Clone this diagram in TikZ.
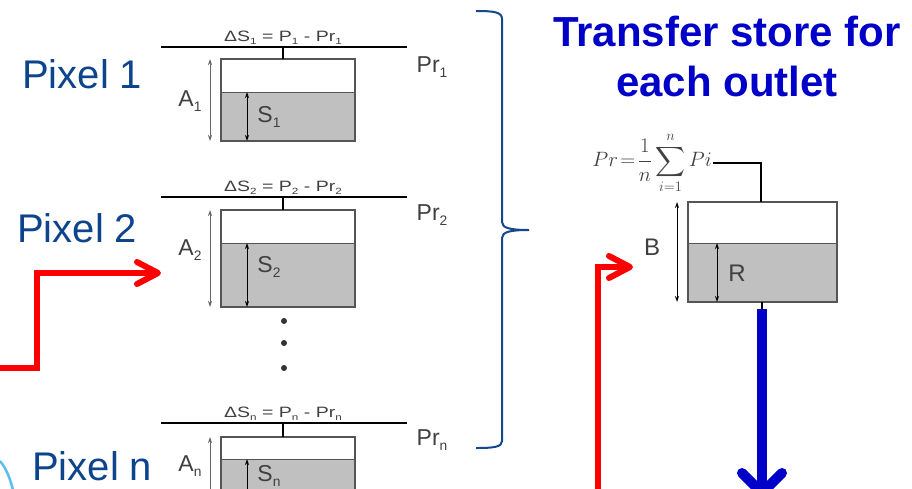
\documentclass[tikz,border=0pt]{standalone}
\usepackage{amsmath}
\usepackage{exscale}
\usepackage{fontspec}
\setmainfont{Liberation Sans}
\usetikzlibrary{arrows.meta}
\definecolor{pixblue}{RGB}{14,68,140}
\definecolor{titleblue}{RGB}{0,0,200}
\definecolor{bracecol}{RGB}{20,72,140}
\definecolor{txtgray}{RGB}{64,64,64}
\definecolor{watercol}{RGB}{192,192,192}
\definecolor{boxedge}{RGB}{85,85,85}
\definecolor{arcblue}{RGB}{90,190,240}
\definecolor{flowblue}{RGB}{0,0,200}
\definecolor{flowred}{RGB}{255,0,0}
\newcommand\sbs[1]{\raisebox{-0.45ex}{\scalebox{0.6}{#1}}}
\tikzset{
  mainline/.style={black, line width=2pt},
  stubline/.style={black, line width=2pt},
  tankbox/.style={draw=boxedge, line width=1.2pt, inner sep=0pt, outer sep=0pt, minimum width=134pt},
  waterline/.style={boxedge, line width=1pt},
  dimA/.style={gray!80!black, line width=1pt, {Stealth[length=6pt,width=4pt]}-{Stealth[length=6pt,width=4pt]}},
  dimS/.style={black, line width=1pt, {Stealth[length=6pt,width=4pt]}-{Stealth[length=6pt,width=4pt]}},
  tlab/.style={text=txtgray, inner sep=0pt, font=\fontsize{23}{27}\selectfont},
  eqlab/.style={text=txtgray, inner sep=1pt, font=\fontsize{15}{18}\selectfont},
  pixlab/.style={text=pixblue, inner sep=0pt, anchor=base west, font=\fontsize{40}{48}\selectfont},
  redflow/.style={flowred, line width=6pt, line join=miter},
  redhead/.style={flowred, line width=6pt, line cap=round, line join=round},
}
\newcommand\tankdraw[9]{%
  \coordinate (#1-l) at (161,#3);
  \coordinate (#1-r) at (407,#3);
  \coordinate (#1-s) at (283,#3);
  \draw[mainline] (#1-l) -- (#1-r);
  \node[eqlab, anchor=south] (#1-eq) at (283,#3-1) {\scalebox{1.3}[1]{ΔS\sbs{#2} = P\sbs{#2} - Pr\sbs{#2}}};
  \fill[watercol] (221,#5) rectangle (355,#6);
  \draw[waterline] (221,#5) -- (355,#5);
  \node[tankbox, minimum height={(#6-#4)*1pt}, anchor=north west] (#1-box) at (221,#4) {};
  \draw[stubline] (#1-s) -- (#1-s |- #1-box.north);
  \draw[dimA] (210,#4) -- (210,#6);
  \draw[dimS] (247,#5) -- (247,#6);
  \node[tlab] (#1-A) at (190,#8) {A\sbs{#2}};
  \node[tlab] (#1-S) at (269,#9) {S\sbs{#2}};
  \node[tlab] (#1-Pr) at (432,#7) {Pr\sbs{#2}};
}
\begin{document}
\begin{tikzpicture}[x=1pt,y=-1pt]
\useasboundingbox (0,0) rectangle (912,488);
\clip (0,0) rectangle (912,488);
\fill[white] (0,0) rectangle (912,488);

% pixel labels
\node[pixlab] (p1) at (22,88) {Pixel 1};
\node[pixlab] (p2) at (17,242) {Pixel 2};
\node[pixlab] (pn) at (32,480) {Pixel n};

% pixel tanks
\tankdraw{t1}{1}{47}{59}{92}{141}{67}{101}{117}
\tankdraw{t2}{2}{197}{210}{243}{307}{215}{250}{267}
\tankdraw{tn}{n}{423}{437}{459}{500}{440}{466}{476}

% dots
\foreach \yy [count=\k] in {321,343,368} \fill[black!80] (284,\yy) circle (3pt) coordinate (dot\k);

% brace
\coordinate (br-top) at (476,11);
\coordinate (br-tip) at (529,230);
\coordinate (br-bot) at (476,448);
\draw[bracecol, line width=2pt] (br-top) .. controls (494,11) and (502,12) .. (502,19) -- (502,222)
  .. controls (502,228) and (510,230) .. (br-tip)
  .. controls (510,230) and (502,232) .. (502,238) -- (502,441)
  .. controls (502,447) and (494,448) .. (br-bot);

% title
\node[text=titleblue, anchor=north, inner sep=0pt, align=center,
  font=\fontsize{42}{50}\selectfont\bfseries] (title) at (727,16) {Transfer store for\\each outlet};

% transfer store
\fill[watercol] (688,243) rectangle (837,302);
\draw[waterline] (688,243) -- (837,243);
\node[tankbox, minimum width=149pt, minimum height=100pt, anchor=north west] (T-box) at (688,202) {};
\draw[dimS] (677,202) -- (677,302);
\draw[dimS] (717,243) -- (717,302);
\node[tlab, font=\fontsize{24}{28}\selectfont] (T-B) at (652,247) {B};
\node[tlab, font=\fontsize{24}{28}\selectfont] (T-R) at (737,273) {R};
\node[anchor=east, inner sep=1pt, text=txtgray, font=\fontsize{20}{24}\selectfont] (F) at (713,163)
  {$\displaystyle Pr\!=\!\frac{1}{n}\sum_{i=1}^{n}Pi$};
\coordinate (T-in) at (761,202);
\draw[mainline] (F.east) -| (T-in);
\coordinate (T-out) at (762,309);
\draw[stubline] (T-box.south -| T-out) -- (T-out);
\coordinate (T-tip) at (762,493);
\draw[flowblue, line width=10pt] (T-out) -- (T-tip);
\draw[flowblue, line width=10pt, line cap=round, line join=round] (742,473) -- (T-tip) -- (782,473);

% red flows
\coordinate (rL0) at (-6,368);
\coordinate (rL1) at (158,273);
\draw[redflow] (rL0) -- (37,368) -- (37,273) -- (rL1);
\draw[redhead] (137,262) -- (rL1) -- (137,284);
\coordinate (rR0) at (598,494);
\coordinate (rR1) at (630,267);
\draw[redflow] (rR0) -- (598,267) -- (rR1);
\draw[redhead] (609,256) -- (rR1) -- (609,278);

% light blue arc
\draw[arcblue, line width=2.5pt] (0,461) .. controls (6,468) and (10,478) .. (13,490);
\end{tikzpicture}
\end{document}
